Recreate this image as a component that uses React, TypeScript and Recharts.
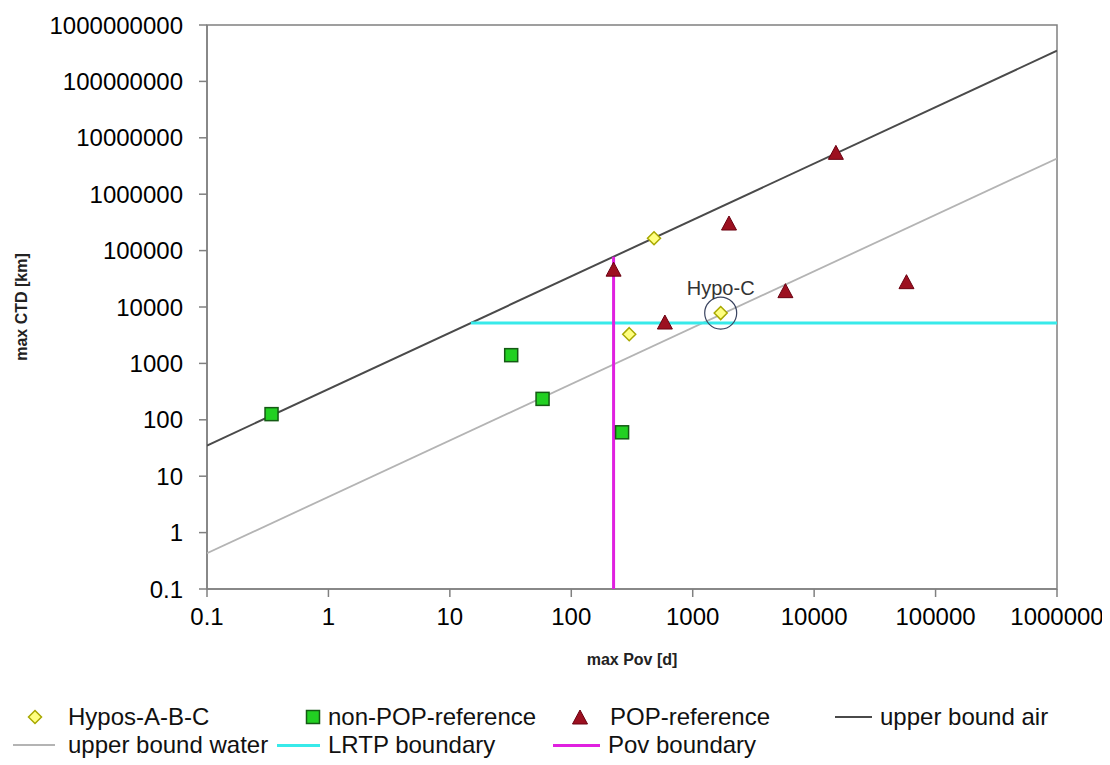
import React from 'react';
import { ScatterChart, Scatter, XAxis, YAxis, ReferenceArea, ReferenceDot, Label } from 'recharts';

// tick values
const povTicks = [0.1, 1, 10, 100, 1000, 10000, 100000, 1000000];
const ctdTicks = [0.1, 1, 10, 100, 1000, 10000, 100000, 1000000, 10000000, 100000000, 1000000000];

// max Pov [d] / max CTD [km] per group
const hyposPov = [480, 300, 1700];
const hyposCtd = [166000, 3300, 7800];
const nonPopPov = [0.34, 32, 58, 262];
const nonPopCtd = [126, 1400, 235, 60];
const popPov = [223, 590, 1990, 5800, 15100, 57600];
const popCtd = [45000, 5200, 296000, 18700, 5300000, 27000];

// bounds / boundaries
const airPov = [0.1, 1000000];
const airCtd = [35, 350000000];
const waterPov = [0.1, 1000000];
const waterCtd = [0.43, 4300000];
const lrtpPov = [14.9, 1000000];
const lrtpCtd = [5200, 5200];
const povLinePov = [223, 223];
const povLineCtd = [0.1, 78000];

const hypoC = { pov: 1700, ctd: 7800, label: 'Hypo-C' };

const zip = (xs: number[], ys: number[]) => xs.map((x, i) => ({ x, y: ys[i] }));

const FONT = '"Liberation Sans", Arial, sans-serif';

const Diamond = (p: any) => (
  <path
    d={`M${p.cx},${p.cy - 6.5}L${p.cx + 6.5},${p.cy}L${p.cx},${p.cy + 6.5}L${p.cx - 6.5},${p.cy}Z`}
    fill="#ffff80"
    stroke="#a8a800"
    strokeWidth={1.5}
  />
);
const Square = (p: any) => (
  <rect x={p.cx - 6.5} y={p.cy - 6.5} width={13} height={13} fill="#22d022" stroke="#145a14" strokeWidth={1.5} />
);
const Triangle = (p: any) => (
  <path
    d={`M${p.cx},${p.cy - 8}L${p.cx + 7.5},${p.cy + 6}L${p.cx - 7.5},${p.cy + 6}Z`}
    fill="#9c1020"
    stroke="#6a0010"
    strokeWidth={1}
  />
);
const NoShape = () => <g />;

const legendText: React.CSSProperties = {
  position: 'absolute',
  fontFamily: FONT,
  fontSize: 24,
  lineHeight: '24px',
  color: '#111',
  whiteSpace: 'nowrap',
};

function LegendLine({ left, top, width, color, h }: any) {
  return <div style={{ position: 'absolute', left, top: top - h / 2, width, height: h, background: color }} />;
}

export default function App() {
  const r1 = 709;
  const r2 = 737;
  return (
    <div style={{ position: 'relative', width: 1102, height: 757 }}>
      <ScatterChart width={1102} height={665} margin={{ top: 17, right: 53, left: 0, bottom: 0 }}>
        <XAxis
          dataKey="x"
          type="number"
          scale="log"
          domain={[0.1, 1000000]}
          ticks={povTicks}
          allowDataOverflow
          height={84}
          stroke="#808080"
          strokeWidth={1.5}
          tickSize={8}
          tickMargin={11}
          tick={{ fill: '#000', fontSize: 24, fontFamily: FONT }}
          tickFormatter={(v) => String(v)}
        >
          <Label
            content={({ viewBox }: any) => (
              <text
                x={viewBox.x + viewBox.width / 2}
                y={viewBox.y + viewBox.height - 8}
                textAnchor="middle"
                fontSize={16}
                fontWeight="bold"
                fontFamily={FONT}
                fill="#222"
              >
                max Pov [d]
              </text>
            )}
          />
        </XAxis>
        <YAxis
          dataKey="y"
          type="number"
          scale="log"
          domain={[0.1, 1000000000]}
          ticks={ctdTicks}
          allowDataOverflow
          width={199}
          stroke="#808080"
          strokeWidth={1.5}
          tickSize={8}
          tickMargin={16}
          tick={{ fill: '#000', fontSize: 24, fontFamily: FONT }}
          tickFormatter={(v) => String(v)}
        >
          <Label
            content={({ viewBox }: any) => {
              const cx = viewBox.x + 13;
              const cy = viewBox.y + viewBox.height / 2;
              return (
                <text
                  x={cx}
                  y={cy}
                  transform={`rotate(-90 ${cx} ${cy})`}
                  textAnchor="middle"
                  dominantBaseline="central"
                  fontSize={16}
                  fontWeight="bold"
                  fontFamily={FONT}
                  fill="#222"
                >
                  max CTD [km]
                </text>
              );
            }}
          />
        </YAxis>
        <ReferenceArea x1={0.1} x2={1000000} y1={0.1} y2={1000000000} fill="none" stroke="#808080" strokeWidth={1.5} />
        <Scatter data={zip(waterPov, waterCtd)} line={{ stroke: '#b4b4b4', strokeWidth: 1.8 }} lineType="joint" shape={NoShape} isAnimationActive={false} />
        <Scatter data={zip(airPov, airCtd)} line={{ stroke: '#4a4a4a', strokeWidth: 2 }} lineType="joint" shape={NoShape} isAnimationActive={false} />
        <Scatter data={zip(lrtpPov, lrtpCtd)} line={{ stroke: '#38eaea', strokeWidth: 3 }} lineType="joint" shape={NoShape} isAnimationActive={false} />
        <Scatter data={zip(povLinePov, povLineCtd)} line={{ stroke: '#e020e0', strokeWidth: 3 }} lineType="joint" shape={NoShape} isAnimationActive={false} />
        <Scatter data={zip(hyposPov, hyposCtd)} shape={Diamond} isAnimationActive={false} />
        <Scatter data={zip(nonPopPov, nonPopCtd)} shape={Square} isAnimationActive={false} />
        <Scatter data={zip(popPov, popCtd)} shape={Triangle} isAnimationActive={false} />
        <ReferenceDot
          x={hypoC.pov}
          y={hypoC.ctd}
          r={16}
          fill="none"
          stroke="#3a4460"
          strokeWidth={1.2}
          label={{ value: hypoC.label, position: 'top', offset: 2, fontSize: 20, fontFamily: FONT, fill: '#333' }}
        />
      </ScatterChart>

      {/* legend markers */}
      <svg style={{ position: 'absolute', left: 0, top: 0 }} width={1102} height={757} pointerEvents="none">
        <Diamond cx={27} cy={r1} />
        <Square cx={305} cy={r1} />
        <Triangle cx={572} cy={r1 + 1} />
      </svg>
      <span style={{ ...legendText, left: 60, top: r1 - 12 }}>Hypos-A-B-C</span>
      <span style={{ ...legendText, left: 320, top: r1 - 12 }}>non-POP-reference</span>
      <span style={{ ...legendText, left: 602, top: r1 - 12 }}>POP-reference</span>
      <LegendLine left={827} top={r1} width={37} color="#4a4a4a" h={2} />
      <span style={{ ...legendText, left: 872, top: r1 - 12 }}>upper bound air</span>

      <LegendLine left={5} top={r2} width={42} color="#b4b4b4" h={2} />
      <span style={{ ...legendText, left: 60, top: r2 - 12 }}>upper bound water</span>
      <LegendLine left={269} top={r2} width={43} color="#38eaea" h={3} />
      <span style={{ ...legendText, left: 320, top: r2 - 12 }}>LRTP boundary</span>
      <LegendLine left={545} top={r2} width={47} color="#e020e0" h={3} />
      <span style={{ ...legendText, left: 600, top: r2 - 12 }}>Pov boundary</span>
    </div>
  );
}
